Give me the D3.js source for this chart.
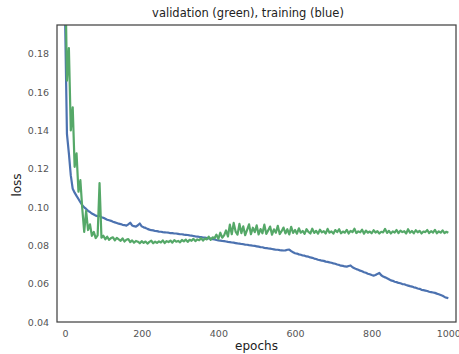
<!DOCTYPE html>
<html>
<head>
<meta charset="utf-8">
<script src="https://cdn.jsdelivr.net/npm/d3@7"></script>
<style>
	body { margin: 0; background: #fff; }
	text { font-family: 'DejaVu Sans', sans-serif; }
</style>
</head>
<body>
<div id="chart"></div>
<script>
var epochStep = 5;

// training loss, one value every 5 epochs (0..1000)
var trainLoss = [
	0.2000, 0.1380, 0.1280, 0.1165, 0.1095, 0.1075, 0.1058, 0.1042, 0.1025, 0.1010,
	0.0998, 0.0990, 0.0980, 0.0974, 0.0966, 0.0961, 0.0955, 0.0952, 0.0956, 0.0946,
	0.0944, 0.0939, 0.0934, 0.0931, 0.0928, 0.0923, 0.0920, 0.0917, 0.0913, 0.0911,
	0.0907, 0.0906, 0.0903, 0.0910, 0.0918, 0.0904, 0.0900, 0.0898, 0.0905, 0.0914,
	0.0899, 0.0894, 0.0891, 0.0886, 0.0882, 0.0879, 0.0878, 0.0875, 0.0874, 0.0872,
	0.0871, 0.0869, 0.0868, 0.0867, 0.0866, 0.0864, 0.0864, 0.0862, 0.0862, 0.0860,
	0.0858, 0.0858, 0.0856, 0.0855, 0.0854, 0.0852, 0.0851, 0.0849, 0.0847, 0.0846,
	0.0844, 0.0843, 0.0841, 0.0840, 0.0838, 0.0836, 0.0835, 0.0832, 0.0831, 0.0828,
	0.0826, 0.0825, 0.0823, 0.0822, 0.0820, 0.0818, 0.0817, 0.0815, 0.0814, 0.0812,
	0.0810, 0.0809, 0.0807, 0.0806, 0.0804, 0.0803, 0.0801, 0.0800, 0.0798, 0.0797,
	0.0795, 0.0793, 0.0791, 0.0790, 0.0787, 0.0786, 0.0784, 0.0783, 0.0781, 0.0779,
	0.0777, 0.0777, 0.0775, 0.0774, 0.0773, 0.0774, 0.0777, 0.0778, 0.0770, 0.0764,
	0.0759, 0.0757, 0.0753, 0.0751, 0.0747, 0.0746, 0.0742, 0.0741, 0.0737, 0.0735,
	0.0731, 0.0729, 0.0725, 0.0723, 0.0720, 0.0719, 0.0715, 0.0714, 0.0711, 0.0709,
	0.0706, 0.0704, 0.0700, 0.0698, 0.0694, 0.0693, 0.0690, 0.0689, 0.0692, 0.0695,
	0.0686, 0.0681, 0.0676, 0.0673, 0.0668, 0.0665, 0.0660, 0.0657, 0.0652, 0.0649,
	0.0645, 0.0642, 0.0645, 0.0651, 0.0656, 0.0644, 0.0637, 0.0633, 0.0628, 0.0623,
	0.0617, 0.0615, 0.0610, 0.0608, 0.0604, 0.0602, 0.0598, 0.0597, 0.0593, 0.0590,
	0.0587, 0.0585, 0.0581, 0.0579, 0.0575, 0.0573, 0.0568, 0.0566, 0.0564, 0.0562,
	0.0558, 0.0556, 0.0554, 0.0552, 0.0548, 0.0545, 0.0541, 0.0537, 0.0531, 0.0527,
	0.0524
];

// validation loss, one value every 5 epochs (0..1000)
var validLoss = [
	0.2300, 0.1660, 0.1830, 0.1400, 0.1520, 0.1210, 0.1280, 0.1080, 0.1140, 0.0990,
	0.0870, 0.0980, 0.0880, 0.0910, 0.0850, 0.0870, 0.0838, 0.0852, 0.1125, 0.0840,
	0.0850, 0.0832, 0.0845, 0.0829, 0.0838, 0.0842, 0.0826, 0.0839, 0.0831, 0.0824,
	0.0836, 0.0820, 0.0829, 0.0833, 0.0817, 0.0826, 0.0814, 0.0823, 0.0819, 0.0811,
	0.0822, 0.0813, 0.0820, 0.0809, 0.0818, 0.0824, 0.0811, 0.0819, 0.0813, 0.0821,
	0.0815, 0.0826, 0.0812, 0.0822, 0.0817, 0.0825, 0.0814, 0.0827, 0.0819, 0.0823,
	0.0816, 0.0828, 0.0821, 0.0830, 0.0818, 0.0829, 0.0824, 0.0834, 0.0822, 0.0831,
	0.0827, 0.0838, 0.0825, 0.0836, 0.0831, 0.0845, 0.0829, 0.0842, 0.0837, 0.0856,
	0.0834, 0.0866, 0.0840, 0.0852, 0.0878, 0.0846, 0.0908, 0.0858, 0.0917, 0.0872,
	0.0856, 0.0912, 0.0864, 0.0899, 0.0853, 0.0881, 0.0910, 0.0858, 0.0892, 0.0869,
	0.0904, 0.0857, 0.0885, 0.0863, 0.0908, 0.0860, 0.0878, 0.0898, 0.0856, 0.0884,
	0.0866, 0.0902, 0.0859, 0.0874, 0.0893, 0.0862, 0.0884, 0.0857, 0.0897, 0.0865,
	0.0880, 0.0861, 0.0889, 0.0866, 0.0875, 0.0860, 0.0884, 0.0870, 0.0862, 0.0887,
	0.0865, 0.0876, 0.0861, 0.0882, 0.0868, 0.0874, 0.0862, 0.0886, 0.0866, 0.0873,
	0.0861, 0.0880, 0.0869, 0.0884, 0.0863, 0.0872, 0.0866, 0.0881, 0.0862, 0.0876,
	0.0869, 0.0887, 0.0864, 0.0873, 0.0868, 0.0882, 0.0861, 0.0877, 0.0866, 0.0872,
	0.0863, 0.0879, 0.0867, 0.0874, 0.0862, 0.0871, 0.0868, 0.0886, 0.0865, 0.0876,
	0.0862, 0.0873, 0.0867, 0.0880, 0.0864, 0.0877, 0.0869, 0.0874, 0.0862, 0.0884,
	0.0866, 0.0875, 0.0863, 0.0879, 0.0868, 0.0876, 0.0862, 0.0872, 0.0869, 0.0880,
	0.0864, 0.0874, 0.0867, 0.0881, 0.0863, 0.0873, 0.0866, 0.0878, 0.0864, 0.0871,
	0.0866
];

var xTicks = [0, 200, 400, 600, 800, 1000];
var yTicks = [0.04, 0.06, 0.08, 0.10, 0.12, 0.14, 0.16, 0.18];

var width = 459;
var height = 354;
var margin = {top: 25, right: 3, bottom: 32, left: 57};
var plotWidth = width - margin.left - margin.right;
var plotHeight = height - margin.top - margin.bottom;

var svg = d3.select('#chart')
	.append('svg')
	.attr('width', width)
	.attr('height', height);

var xScale = d3.scaleLinear()
	.domain([-21, 1020])
	.range([0, plotWidth]);

var yScale = d3.scaleLinear()
	.domain([0.04, 0.195])
	.range([plotHeight, 0]);

var plot = svg.append('g')
	.attr('transform', 'translate(' + margin.left + ',' + margin.top + ')');

plot.append('clipPath')
	.attr('id', 'plotClip')
	.append('rect')
	.attr('width', plotWidth)
	.attr('height', plotHeight);

var xAxis = d3.axisBottom(xScale)
	.tickValues(xTicks)
	.tickSize(0)
	.tickPadding(8)
	.tickFormat(d3.format('d'));

var yAxis = d3.axisLeft(yScale)
	.tickValues(yTicks)
	.tickSize(0)
	.tickPadding(8)
	.tickFormat(d3.format('.2f'));

plot.append('g')
	.attr('transform', 'translate(0,' + plotHeight + ')')
	.call(xAxis)
	.call(function(g) { g.select('.domain').remove(); });

plot.append('g')
	.call(yAxis)
	.call(function(g) { g.select('.domain').remove(); });

plot.selectAll('.tick text')
	.attr('fill', '#555')
	.style('font-size', '9.5px')
	.style('font-family', "'DejaVu Sans', sans-serif");

var line = d3.line()
	.x(function(d, i) { return xScale(i * epochStep); })
	.y(function(d) { return yScale(d); });

var lines = plot.append('g').attr('clip-path', 'url(#plotClip)');

lines.append('path')
	.datum(trainLoss)
	.attr('d', line)
	.attr('fill', 'none')
	.attr('stroke', '#4C72B0')
	.attr('stroke-width', 2.2)
	.attr('stroke-linejoin', 'round');

lines.append('path')
	.datum(validLoss)
	.attr('d', line)
	.attr('fill', 'none')
	.attr('stroke', '#55A868')
	.attr('stroke-width', 2.2)
	.attr('stroke-linejoin', 'round');

plot.append('rect')
	.attr('width', plotWidth)
	.attr('height', plotHeight)
	.attr('fill', 'none')
	.attr('stroke', '#444')
	.attr('stroke-width', 1.25);

svg.append('text')
	.text('validation (green), training (blue)')
	.attr('x', 248)
	.attr('y', 17)
	.attr('text-anchor', 'middle')
	.attr('fill', '#222')
	.style('font-size', '11.5px');

svg.append('text')
	.text('epochs')
	.attr('x', margin.left + plotWidth / 2)
	.attr('y', 350)
	.attr('text-anchor', 'middle')
	.attr('fill', '#222')
	.style('font-size', '12px');

svg.append('text')
	.text('loss')
	.attr('transform', 'translate(21,185) rotate(-90)')
	.attr('text-anchor', 'middle')
	.attr('fill', '#222')
	.style('font-size', '12px');
</script>
</body>
</html>
